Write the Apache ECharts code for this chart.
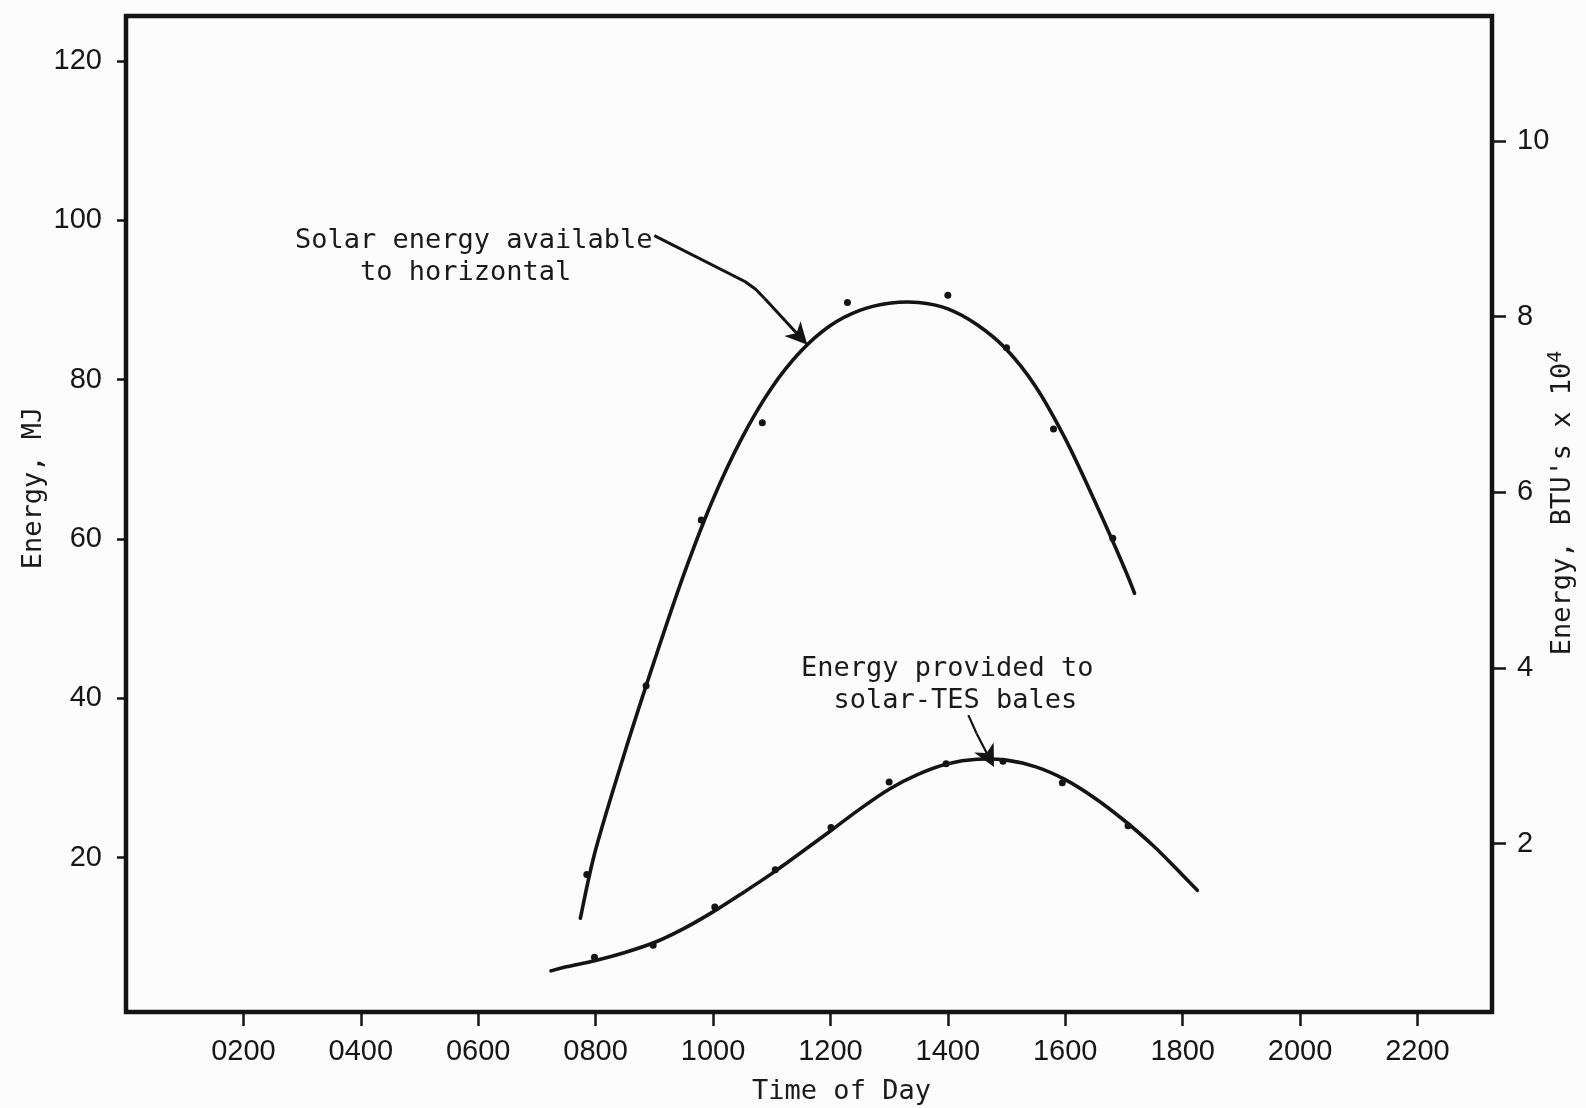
<!DOCTYPE html>
<html>
<head>
<meta charset="utf-8">
<script src="https://cdn.jsdelivr.net/npm/echarts@6/dist/echarts.min.js"></script>
<style>
html,body{margin:0;padding:0;background:#fcfcfc;}
#chart{width:1586px;height:1108px;}
</style>
</head>
<body>
<div id="chart"></div>
<script>
// ---- tick values ----
const xTickHours = [2, 4, 6, 8, 10, 12, 14, 16, 18, 20, 22];
const leftTicksMJ = [20, 40, 60, 80, 100, 120];
const rightTicksBTU = [2, 4, 6, 8, 10];

// ---- Solar energy available to horizontal (MJ) ----
const solarPointTime = [7.85, 8.86, 9.80, 10.84, 12.29, 14.0, 15.0, 15.8, 16.81];
const solarPointMJ   = [17.9, 41.6, 62.4, 74.6, 89.7, 90.6, 84.0, 73.8, 60.1];
const solarCurveTime = [7.74, 8.0, 8.5, 9.0, 9.5, 10.0, 10.5, 11.0, 11.5, 12.0, 12.5, 13.0, 13.5, 14.0, 14.5, 15.0, 15.5, 16.0, 16.5, 17.0, 17.18];
const solarCurveMJ   = [12.4, 21.0, 33.3, 44.7, 55.5, 65.0, 72.8, 79.0, 83.6, 86.8, 88.7, 89.6, 89.7, 88.9, 86.9, 83.8, 79.1, 72.6, 64.8, 56.5, 53.2];

// ---- Energy provided to solar-TES bales (MJ) ----
const balesPointTime = [7.98, 8.98, 10.03, 11.06, 12.01, 13.0, 13.97, 14.94, 15.95, 17.07];
const balesPointMJ   = [7.5, 9.0, 13.8, 18.5, 23.8, 29.5, 31.8, 32.1, 29.4, 24.0];
const balesCurveTime = [7.24, 7.5, 8.0, 8.5, 9.0, 9.5, 10.0, 10.5, 11.0, 11.5, 12.0, 12.5, 13.0, 13.5, 14.0, 14.5, 15.0, 15.5, 16.0, 16.5, 17.0, 17.5, 18.0, 18.25];
const balesCurveMJ   = [5.8, 6.3, 7.1, 8.1, 9.35, 11.1, 13.2, 15.55, 18.0, 20.65, 23.35, 26.1, 28.6, 30.5, 31.8, 32.35, 32.25, 31.4, 29.8, 27.5, 24.7, 21.5, 17.8, 15.9];

// ---- annotation arrows (data units: hour, MJ) ----
const arrowSolarBody = [[9.0, 98.1], [10.55, 92.3], [10.72, 91.4], [10.88, 90.2]];
const arrowSolarHead = [[10.88, 90.2], [11.48, 85.4]];
const arrowBalesBody = [[14.35, 37.9], [14.49, 35.6]];
const arrowBalesHead = [[14.49, 35.6], [14.7, 32.6]];

const zip = (a, b) => a.map((v, i) => [v, b[i]]);

const INK = '#141414';
const MONO = '"DejaVu Sans Mono", "Liberation Mono", monospace';
const SANS = '"Liberation Sans", Arial, sans-serif';

// Smooth (Catmull-Rom) path through the pixel positions of the read curve points
function smoothPathData(pts) {
  let d = 'M' + pts[0][0] + ' ' + pts[0][1];
  for (let i = 0; i < pts.length - 1; i++) {
    const p0 = pts[i - 1] || pts[i], p1 = pts[i], p2 = pts[i + 1], p3 = pts[i + 2] || pts[i + 1];
    const c1x = p1[0] + (p2[0] - p0[0]) / 6, c1y = p1[1] + (p2[1] - p0[1]) / 6;
    const c2x = p2[0] - (p3[0] - p1[0]) / 6, c2y = p2[1] - (p3[1] - p1[1]) / 6;
    d += ' C' + c1x + ' ' + c1y + ' ' + c2x + ' ' + c2y + ' ' + p2[0] + ' ' + p2[1];
  }
  return d;
}
function curveSeries(name, data) {
  return {
    type: 'custom', name: name, coordinateSystem: 'cartesian2d', data: data, z: 2, silent: true,
    encode: {x: 0, y: 1},
    renderItem: (params, api) => {
      if (params.dataIndex !== 0) return null;
      const pts = data.map(p => api.coord(p));
      return {type: 'path', shape: {pathData: smoothPathData(pts)},
        style: {fill: 'none', stroke: INK, lineWidth: 3.6, lineJoin: 'round', lineCap: 'round'}};
    }
  };
}

const chart = echarts.init(document.getElementById('chart'), null, {renderer: 'canvas'});
chart.setOption({
  animation: false,
  backgroundColor: '#fcfcfc',
  grid: {left: 126, right: 94, top: 16, bottom: 96, show: true, borderColor: '#141414', borderWidth: 4.5,
    containLabel: false, outerBoundsMode: 'none'},
  xAxis: {
    type: 'value', min: 0, max: 23.27,
    axisLine: {show: false},
    splitLine: {show: false},
    axisTick: {show: true, customValues: xTickHours, length: 14, lineStyle: {color: INK, width: 2.5}},
    axisLabel: {customValues: xTickHours, margin: 25, fontFamily: SANS, fontSize: 29, color: '#161616',
      formatter: v => String(Math.round(v * 100)).padStart(4, '0')},
    name: 'Time of Day', nameLocation: 'middle', nameGap: 64,
    nameTextStyle: {fontFamily: MONO, fontSize: 27, color: '#1a1a1a', lineHeight: 32, padding: [0, 0, 0, 65]}
  },
  yAxis: [
    {
      type: 'value', position: 'left', min: 0.63, max: 125.66,
      axisLine: {show: false}, splitLine: {show: false},
      axisTick: {show: true, customValues: leftTicksMJ, length: 9, lineStyle: {color: INK, width: 2.5}},
      axisLabel: {customValues: leftTicksMJ, margin: 24, fontFamily: SANS, fontSize: 29, color: '#161616'},
      name: 'Energy, MJ', nameLocation: 'middle', nameRotate: 90, nameGap: 76, nameMoveOverlap: false,
      nameTextStyle: {fontFamily: MONO, fontSize: 27, color: '#1a1a1a', lineHeight: 32, padding: [0, 0, 0, 52]}
    },
    {
      type: 'value', position: 'right', min: 0.085, max: 11.42,
      axisLine: {show: false}, splitLine: {show: false},
      axisTick: {show: true, customValues: rightTicksBTU, length: 14, lineStyle: {color: INK, width: 2.5}},
      axisLabel: {customValues: rightTicksBTU, margin: 25, fontFamily: SANS, fontSize: 29, color: '#161616'},
      name: "{a|Energy, BTU's x 10}{s|4}", nameLocation: 'middle', nameRotate: 90, nameGap: 54, nameMoveOverlap: false,
      nameTextStyle: {
        padding: [0, 0, 0, 22],
        rich: {
          a: {fontFamily: MONO, fontSize: 27, color: '#1a1a1a', lineHeight: 34},
          s: {fontFamily: MONO, fontSize: 20, color: '#1a1a1a', lineHeight: 20, verticalAlign: 'top'}
        }
      }
    }
  ],
  graphic: [
    {type: 'text', left: 295, top: 225, z: 100,
      style: {text: 'Solar energy available\n    to horizontal', font: '27px ' + MONO, fill: '#1a1a1a', lineHeight: 32}},
    {type: 'text', left: 801, top: 653, z: 100,
      style: {text: 'Energy provided to\n  solar-TES bales', font: '27px ' + MONO, fill: '#1a1a1a', lineHeight: 32}}
  ],
  series: [
    curveSeries('Solar energy available to horizontal', zip(solarCurveTime, solarCurveMJ)),
    {type: 'scatter', name: 'Solar energy (measured)', data: zip(solarPointTime, solarPointMJ),
      symbol: 'circle', symbolSize: 7, itemStyle: {color: INK, opacity: 1}, z: 3},
    curveSeries('Energy provided to solar-TES bales', zip(balesCurveTime, balesCurveMJ)),
    {type: 'scatter', name: 'Bales energy (measured)', data: zip(balesPointTime, balesPointMJ),
      symbol: 'circle', symbolSize: 7, itemStyle: {color: INK, opacity: 1}, z: 3},
    {type: 'lines', coordinateSystem: 'cartesian2d', polyline: true, silent: true, z: 4,
      data: [{coords: arrowSolarBody, lineStyle: {width: 3}}, {coords: arrowBalesBody, lineStyle: {width: 2.2}}],
      lineStyle: {color: INK, opacity: 1, curveness: 0}},
    {type: 'lines', coordinateSystem: 'cartesian2d', silent: true, z: 4,
      symbol: ['none', 'path://M0,0 L6,22 L0,16 L-6,22 Z'], symbolSize: [0, 22],
      data: [{coords: arrowSolarHead, lineStyle: {width: 3}}, {coords: arrowBalesHead, lineStyle: {width: 2.2}}],
      lineStyle: {color: INK, opacity: 1, curveness: 0}, itemStyle: {color: INK}}
  ]
});
</script>
</body>
</html>
